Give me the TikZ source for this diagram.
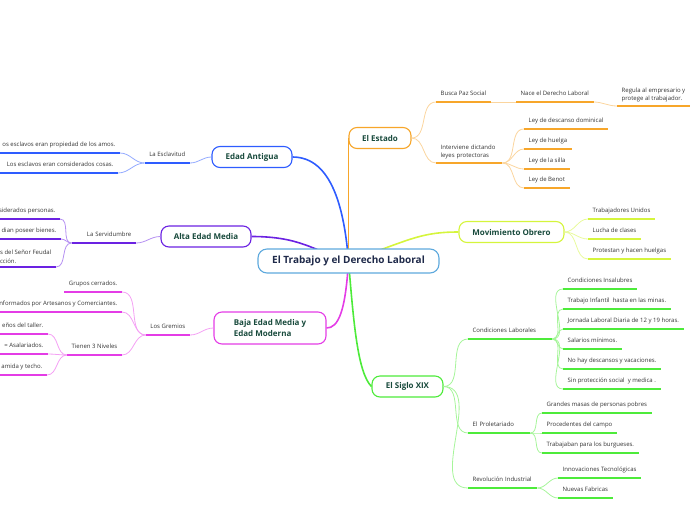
\documentclass[tikz,border=0pt]{standalone}
\usepackage{fontspec}
\setmainfont{Open Sans}
\usetikzlibrary{positioning, calc, backgrounds}

\definecolor{hubblue}{HTML}{5EA9DD}
\definecolor{hubtext}{HTML}{1F2A4A}
\definecolor{headtext}{HTML}{184A3C}
\definecolor{subtext}{HTML}{333333}
\definecolor{antB}{HTML}{2E5CFF}  \definecolor{antL}{HTML}{94ABFF}
\definecolor{altB}{HTML}{6B22E2}  \definecolor{altL}{HTML}{B590F2}
\definecolor{bajB}{HTML}{E43CE6}  \definecolor{bajL}{HTML}{F4A0F4}
\definecolor{estB}{HTML}{F7A62A}  \definecolor{estL}{HTML}{FBD59E}
\definecolor{movB}{HTML}{D5F53C}  \definecolor{movL}{HTML}{E8FA9C}
\definecolor{sigB}{HTML}{4DEB3A}  \definecolor{sigL}{HTML}{A6F59A}

\begin{document}
\begin{tikzpicture}[x=1pt, y=-1pt,
    hub/.style={draw=hubblue, line width=1.1pt, rounded corners=9pt, fill=white,
        minimum width=181pt, minimum height=24pt,
        font=\fontsize{10}{11}\selectfont\bfseries, text=hubtext},
    topic/.style={draw=#1, line width=1.1pt, rounded corners=8pt, fill=white,
        inner sep=2pt, minimum height=21pt,
        font=\fontsize{8}{10.5}\selectfont\bfseries, text=headtext},
    sub/.style={inner xsep=4.5pt, inner ysep=4.5pt, text height=4.4pt, text depth=1.5pt,
        align=left, font=\fontsize{6}{8.8}\selectfont, text=subtext},
    subtwo/.style={inner xsep=4.5pt, inner ysep=3.5pt, align=left,
        font=\fontsize{6}{8.8}\selectfont, text=subtext},
    ul/.style={#1, line width=1.5pt},
    twig/.style={#1, line width=0.8pt},
    trunk/.style={#1, line width=1.6pt}]

\useasboundingbox (0,0) rectangle (696,520);
\clip (0,0) rectangle (696,520);
\coordinate (cut) at (-5,0);

% =========================================================
%  Central topic and main branches
% =========================================================
\node[hub] (hub) at (348.5,261) {El Trabajo y el Derecho Laboral};

\node[topic=antB, minimum width=80pt] (antigua) at (252,157) {Edad Antigua};
\node[topic=estB, minimum width=62pt] (estado) at (380,138) {El Estado};
\node[topic=altB, minimum width=90pt] (alta) at (206,236.5) {Alta Edad Media};
\node[topic=movB, minimum width=105pt] (obrero) at (511.5,232) {Movimiento Obrero};
\node[topic=bajB, minimum width=112pt, minimum height=32pt, align=left] (baja)
    at (270,328) {Baja Edad Media y\\Edad Moderna};
\node[topic=sigB, minimum width=71pt] (siglo) at (407.5,386.5) {El Siglo XIX};

\begin{pgfonlayer}{background}
    \draw[trunk=antB] (antigua.east) .. controls +(40,0) and +(-4,-50) .. (hub.center);
    \draw[trunk=estB] (hub.center) -- (hub.center |- estado.west);
    \draw[trunk=altB] (alta.east) .. controls +(50,0) and +(-35,-10) .. (hub.center);
    \draw[trunk=bajB] (baja.east) .. controls +(12,0) and +(-3,50) .. (hub.center);
    \draw[trunk=movB] (hub.center) .. controls +(60,-20) and +(-40,0) .. (obrero.west);
    \draw[trunk=sigB] (hub.center) .. controls +(5,60) and +(-14,-14) .. (siglo.west);
\end{pgfonlayer}

% =========================================================
%  LEFT SIDE: Edad Antigua
% =========================================================
\node[sub, anchor=south east] (esclav) at (190,163) {La Esclavitud};
\node[sub, anchor=south east] (amos) at (120,153) {os esclavos eran propiedad de los amos.};
\node[sub, anchor=south east] (cosas) at (118,173) {Los esclavos eran considerados cosas.};

\draw[twig=antL] (antigua.west) to[out=180, in=0] (esclav.south east);
\foreach \n in {amos, cosas}
    \draw[twig=antL] (esclav.south west) to[out=180, in=0] (\n.south east);
\draw[ul=antB] (esclav.south west) -- (esclav.south east);
\foreach \n in {amos, cosas}
    \draw[ul=antB] (\n.south east) -- (\n.south east -| cut);

% =========================================================
%  LEFT SIDE: Alta Edad Media
% =========================================================
\node[sub, anchor=south east, text width=55pt, align=right] (servi) at (136,243) {La Servidumbre};
\node[sub, anchor=south east] (personas) at (60,219) {siderados personas.};
\node[sub, anchor=south east] (bienes) at (61,239) {dian poseer bienes.};
\node[subtwo, anchor=south east] (feudal) at (56,267) {s del Señor Feudal\\cción.};

\draw[twig=altL] (alta.west) to[out=180, in=0] (servi.south east);
\foreach \n in {personas, bienes, feudal}
    \draw[twig=altL] (servi.south west) to[out=180, in=0] (\n.south east);
\draw[ul=altB] (servi.south west) -- (servi.south east);
\foreach \n in {personas, bienes, feudal}
    \draw[ul=altB] (\n.south east) -- (\n.south east -| cut);

% =========================================================
%  LEFT SIDE: Baja Edad Media y Edad Moderna
% =========================================================
\node[sub, anchor=south east] (gremios) at (190,335) {Los Gremios};
\node[sub, anchor=south east] (cerrados) at (122,292) {Grupos cerrados.};
\node[sub, anchor=south east] (artesanos) at (122,312) {nformados por Artesanos y Comerciantes.};
\node[sub, anchor=south east] (niveles) at (122,355) {Tienen 3 Niveles};
\node[sub, anchor=south east] (taller) at (48,334) {eños del taller.};
\node[sub, anchor=south east] (asal) at (48,354) {= Asalariados.};
\node[sub, anchor=south east] (techo) at (47,375) {amida y techo.};

\draw[twig=bajL] (baja.west) to[out=180, in=0] (gremios.south east);
\foreach \n in {cerrados, artesanos, niveles}
    \draw[twig=bajL] (gremios.south west) to[out=180, in=0] (\n.south east);
\foreach \n in {taller, asal, techo}
    \draw[twig=bajL] (niveles.south west) to[out=180, in=0] (\n.south east);
\foreach \n in {gremios, cerrados, niveles}
    \draw[ul=bajB] (\n.south west) -- (\n.south east);
\foreach \n in {artesanos, taller, asal, techo}
    \draw[ul=bajB] (\n.south east) -- (\n.south east -| cut);

% =========================================================
%  RIGHT SIDE: El Estado
% =========================================================
\node[sub, anchor=south west] (paz) at (436,102) {Busca Paz Social};
\node[sub, anchor=south west] (nace) at (516,102) {Nace el Derecho Laboral};
\node[subtwo, anchor=south west] (regula) at (617,106) {Regula al empresario y\\protege al trabajador.};
\node[subtwo, anchor=south west, text width=57pt] (leyes) at (436,163) {Interviene dictando\\leyes protectoras};
\node[sub, anchor=south west] (dominical) at (524,129) {Ley de descanso dominical};
\node[sub, anchor=south west] (huelga) at (524,149) {Ley de huelga};
\node[sub, anchor=south west] (silla) at (524,169) {Ley de la silla};
\node[sub, anchor=south west] (benot) at (524,188) {Ley de Benot};

\foreach \n in {paz, leyes}
    \draw[twig=estL] (estado.east) to[out=0, in=180] (\n.south west);
\draw[twig=estL] (paz.south east) -- (nace.south west);
\draw[twig=estL] (nace.south east) to[out=0, in=180] (regula.south west);
\foreach \n in {dominical, huelga, silla, benot}
    \draw[twig=estL] (leyes.south east) to[out=0, in=180] (\n.south west);
\foreach \n in {paz, nace, regula, leyes, dominical, huelga, silla, benot}
    \draw[ul=estB] (\n.south west) -- (\n.south east);

% =========================================================
%  RIGHT SIDE: Movimiento Obrero
% =========================================================
\node[sub, anchor=south west] (unidos) at (588,219) {Trabajadores Unidos};
\node[sub, anchor=south west] (clases) at (588,239) {Lucha de clases};
\node[sub, anchor=south west] (protestan) at (588,259) {Protestan y hacen huelgas};

\foreach \n in {unidos, clases, protestan} {
    \draw[twig=movL] (obrero.east) to[out=0, in=180] (\n.south west);
    \draw[ul=movB] (\n.south west) -- (\n.south east);
}

% =========================================================
%  RIGHT SIDE: El Siglo XIX
% =========================================================
\node[sub, anchor=south west, text width=75pt] (condic) at (468,339) {Condiciones Laborales};
\node[sub, anchor=south west] (insalubres) at (563,289) {Condiciones Insalubres};
\node[sub, anchor=south west] (infantil) at (563,309) {Trabajo Infantil \ hasta en las minas.};
\node[sub, anchor=south west] (jornada) at (563,329) {Jornada Laboral Diaria de 12 y 19 horas.};
\node[sub, anchor=south west] (salarios) at (563,349) {Salarios mínimos.};
\node[sub, anchor=south west] (descansos) at (563,369) {No hay descansos y vacaciones.};
\node[sub, anchor=south west] (medica) at (563,389) {Sin protección social \ y medica .};

\node[sub, anchor=south west, text width=53pt] (prolet) at (468,433) {El Proletariado};
\node[sub, anchor=south west] (masas) at (542,413) {Grandes masas de personas pobres};
\node[sub, anchor=south west] (campo) at (542,433) {Procedentes del campo};
\node[sub, anchor=south west] (burgueses) at (542,453) {Trabajaban para los burgueses.};

\node[sub, anchor=south west, text width=60pt] (revol) at (468,488) {Revolución Industrial};
\node[sub, anchor=south west] (innov) at (558,478) {Innovaciones Tecnológicas};
\node[sub, anchor=south west] (fabricas) at (558,498) {Nuevas Fabricas};

\foreach \n in {condic, prolet, revol}
    \draw[twig=sigL] (siglo.east) to[out=0, in=180] (\n.south west);
\foreach \n in {insalubres, infantil, jornada, salarios, descansos, medica}
    \draw[twig=sigL] (condic.south east) to[out=0, in=180] (\n.south west);
\foreach \n in {masas, campo, burgueses}
    \draw[twig=sigL] (prolet.south east) to[out=0, in=180] (\n.south west);
\foreach \n in {innov, fabricas}
    \draw[twig=sigL] (revol.south east) to[out=0, in=180] (\n.south west);
\foreach \n in {condic, insalubres, infantil, jornada, salarios, descansos, medica,
                prolet, masas, campo, burgueses, revol, innov, fabricas}
    \draw[ul=sigB] (\n.south west) -- (\n.south east);

\end{tikzpicture}
\end{document}
